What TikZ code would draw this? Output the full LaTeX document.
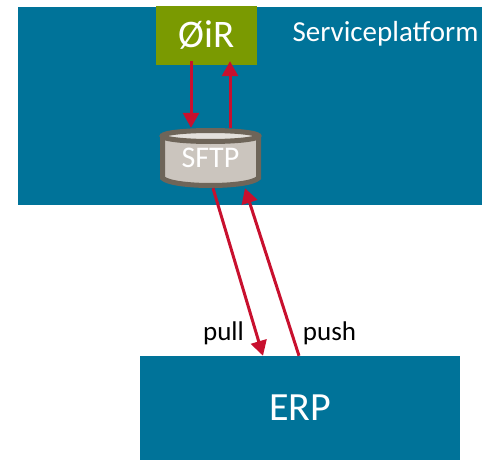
\documentclass[tikz,border=0pt]{standalone}
\usepackage{fontspec}
\setmainfont{Carlito}
\usetikzlibrary{arrows.meta}
\definecolor{petrol}{HTML}{007399}
\definecolor{olive}{HTML}{7A9A01}
\definecolor{crim}{HTML}{C8102E}
\definecolor{cylrim}{HTML}{6E6559}
\definecolor{cylbody}{HTML}{CBC5BE}
\definecolor{cyltop}{HTML}{E3E0DC}
\tikzset{
  x=1pt,y=-1pt,
  box/.style={fill=petrol,draw=none,inner sep=0pt,text=white},
  flow/.style={draw=crim,line width=3pt,-{Triangle[length=15pt,width=16pt]}},
  lab/.style={text=black,font=\fontsize{27}{30}\selectfont,inner sep=0pt,anchor=base},
}
\begin{document}
\begin{tikzpicture}
\useasboundingbox (0,0) rectangle (482,460);
\node[box,minimum width=464pt,minimum height=198pt] (platform) at (250,106) {};
\node[box,text=white,font=\fontsize{29}{32}\selectfont,anchor=base] (sp) at (385.5,42) {Serviceplatform};
\node[fill=olive,inner sep=0pt,minimum width=101pt,minimum height=59pt,text=white,font=\fontsize{39}{42}\selectfont] (oir) at (206.5,35.5) {ØiR};
\node[box,minimum width=320pt,minimum height=104pt,font=\fontsize{40}{44}\selectfont] (erp) at (300,408) {\raisebox{-3pt}{ERP}};
% cylinder
\path[fill=cylbody,draw=cylrim,line width=5pt]
  (162.5,136) -- (162.5,178) .. controls (172,188) and (249,188) .. (258.5,178) -- (258.5,136) -- cycle;
\path[fill=cyltop,draw=cylrim,line width=5pt]
  (210.5,136) ellipse [x radius=48, y radius=5.5];
\node[inner sep=0pt,minimum width=101pt,minimum height=60pt,text=white,font=\fontsize{30}{32}\selectfont] (sftp) at (210.5,158) {\raisebox{-6pt}{SFTP}};
\coordinate (a1) at ([xshift=-15.5pt]oir.south);
\coordinate (a2) at ([xshift=23.5pt]oir.south);
\coordinate (b1) at ([xshift=-19.5pt]sftp.north);
\coordinate (b2) at ([xshift=19.5pt]sftp.north);
\coordinate (c1) at ([xshift=2.5pt]sftp.south);
\coordinate (c2) at ([xshift=34.5pt]sftp.south);
\coordinate (e1) at ([xshift=-37pt]erp.north);
\coordinate (e2) at ([xshift=-1pt]erp.north);
\draw[flow] ([yshift=4pt]a1) -- (b1);
\draw[flow] (b2) -- ([yshift=4pt]a2);
\draw[flow] (c1) -- (e1);
\draw[flow] (e2) -- (c2);
\node[lab] (pull) at (223.5,340) {pull};
\node[lab] (push) at (329.5,340) {push};
\end{tikzpicture}
\end{document}
